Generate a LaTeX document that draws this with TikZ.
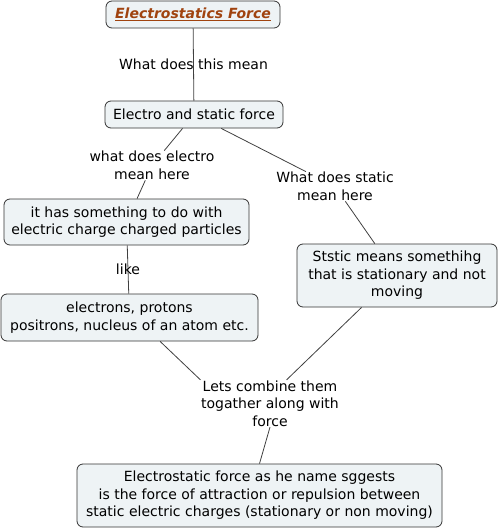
\documentclass[tikz,border=0pt]{standalone}
\usepackage{fontspec}
\setmainfont{DejaVu Sans}
\usetikzlibrary{positioning,calc}
\definecolor{boxfill}{HTML}{EEF3F5}
\definecolor{titlebrown}{HTML}{A0430F}
\tikzset{
  concept/.style={draw=black!80, fill=boxfill, rounded corners=6pt, line width=0.8pt,
    align=center, inner sep=0pt, font=\fontsize{14}{17.5}\selectfont},
  linkword/.style={align=center, inner sep=0.5pt, font=\fontsize{14}{17.5}\selectfont},
  link/.style={draw=black!75, line width=0.8pt}
}

\begin{document}
\begin{tikzpicture}[x=1pt,y=-1pt]
\useasboundingbox (0,0) rectangle (502,532);
% concepts
\node[concept, minimum width=174pt, minimum height=27pt] (title) at (193,14.5)
  {\textcolor{titlebrown}{\textbf{\textit{\underline{Electrostatics Force}}}}};
\node[concept, minimum width=178pt, minimum height=27pt] (ebox) at (194,114.5)
  {Electro and static force};
\node[concept, minimum width=245pt, minimum height=46pt] (hbox) at (126.5,222)
  {it has something to do with\\electric charge charged particles};
\node[concept, minimum width=257pt, minimum height=47pt] (elec) at (129.5,317.5)
  {electrons, protons\\positrons, nucleus of an atom etc.};
\node[concept, minimum width=200pt, minimum height=63pt] (sbox) at (397,275.5)
  {Ststic means somethihg\\that is stationary and not\\moving};
\node[concept, minimum width=365pt, minimum height=63pt] (bot) at (259.5,495.5)
  {Electrostatic force as he name sggests\\is the force of attraction or repulsion between\\static electric charges (stationary or non moving)};
% linking words
\node[linkword] (electro) at (152,165.5) {what does electro\\mean here};
\node[linkword] (static) at (335,186.5) {What does static\\mean here};
\node[linkword] (comb) at (270,403.5) {Lets combine them\\togather along with\\force};
% connectors
\draw[link] (title) -- node[linkword] (what) {What does this mean} (ebox);
\draw[link] (ebox) -- (electro) -- (hbox);
\draw[link] (ebox) -- (static) -- (sbox);
\draw[link] (hbox) -- node[linkword] (like) {like} (elec);
\draw[link] (elec.-38) -- (comb.north west);
\draw[link] (sbox.-138) -- (comb.55);
\draw[link] (comb.south) -- (bot.north);
\end{tikzpicture}
\end{document}
